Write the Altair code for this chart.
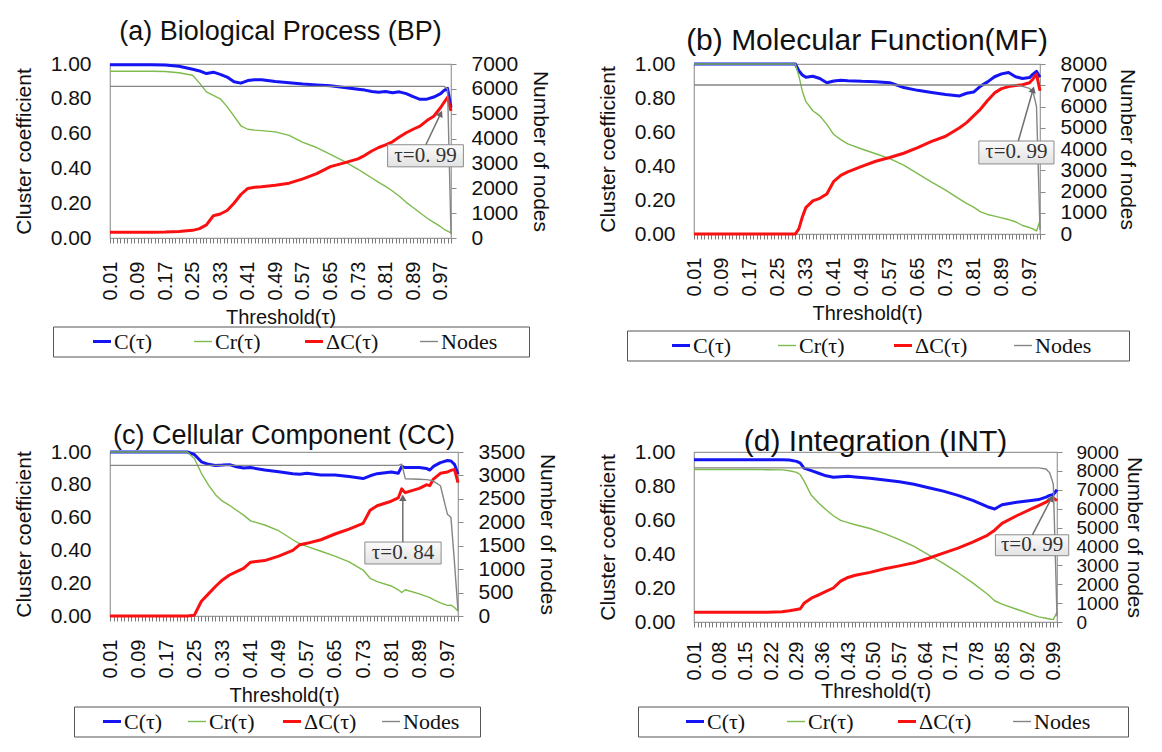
import json
import math
import altair as alt
import pandas as pd

SERIES = ["C(τ)", "Cr(τ)", "ΔC(τ)", "Nodes"]
COLORS = ["#1414f5", "#7dbb4c", "#fa1010", "#858585"]
WIDTHS = [3.0, 1.4, 3.0, 1.4]

X_TICKS = [round(0.01 * i, 2) for i in range(1, 101)]
LABELS_ABC = ["0.01", "0.09", "0.17", "0.25", "0.33", "0.41", "0.49", "0.57",
              "0.65", "0.73", "0.81", "0.89", "0.97"]
LABELS_D = ["0.01", "0.08", "0.15", "0.22", "0.29", "0.36", "0.43", "0.50",
            "0.57", "0.64", "0.71", "0.78", "0.85", "0.92", "0.99"]
LEFT_TICKS = [0.0, 0.2, 0.4, 0.6, 0.8, 1.0]

# ---------------- (a) Biological Process ----------------
XA = [0.01, 0.05, 0.09, 0.13, 0.17, 0.21, 0.25, 0.27, 0.29, 0.31, 0.33, 0.35, 0.37,
      0.39, 0.41, 0.43, 0.45, 0.49, 0.53, 0.57, 0.61, 0.65, 0.69, 0.73, 0.75, 0.77,
      0.79, 0.81, 0.83, 0.85, 0.87, 0.89, 0.91, 0.93, 0.95, 0.97, 0.98, 0.99, 1.00]
CA = [0.995, 0.995, 0.995, 0.995, 0.994, 0.987, 0.97, 0.96, 0.945, 0.953, 0.94, 0.925,
      0.898, 0.89, 0.905, 0.91, 0.91, 0.9, 0.892, 0.885, 0.88, 0.875, 0.865, 0.855,
      0.85, 0.842, 0.838, 0.842, 0.835, 0.84, 0.83, 0.812, 0.797, 0.798, 0.81, 0.83,
      0.848, 0.86, 0.75]
CRA = [0.958, 0.958, 0.958, 0.958, 0.957, 0.95, 0.935, 0.89, 0.84, 0.82, 0.80, 0.755,
       0.70, 0.645, 0.625, 0.62, 0.617, 0.61, 0.59, 0.55, 0.52, 0.48, 0.44, 0.395,
       0.37, 0.345, 0.32, 0.297, 0.27, 0.24, 0.205, 0.175, 0.145, 0.115, 0.09, 0.065,
       0.05, 0.04, 0.03]
DCA = [0.033, 0.033, 0.033, 0.033, 0.034, 0.037, 0.044, 0.054, 0.075, 0.128, 0.138,
       0.158, 0.2, 0.25, 0.285, 0.292, 0.295, 0.303, 0.315, 0.34, 0.37, 0.41, 0.432,
       0.455, 0.475, 0.5, 0.52, 0.535, 0.553, 0.58, 0.605, 0.625, 0.643, 0.675, 0.70,
       0.75, 0.78, 0.808, 0.731]
NA = [6100, 6100, 6100, 6100, 6100, 6100, 6100, 6100, 6100, 6100, 6100, 6100, 6100,
      6100, 6100, 6100, 6100, 6100, 6100, 6100, 6100, 6100, 6100, 6100, 6100, 6100,
      6100, 6100, 6100, 6100, 6100, 6100, 6100, 6100, 6100, 6100, 6100, 6000, 150]
RIGHT_A = [0, 1000, 2000, 3000, 4000, 5000, 6000, 7000]

# ---------------- (b) Molecular Function ----------------
XB = [0.01, 0.05, 0.09, 0.13, 0.17, 0.21, 0.25, 0.29, 0.30, 0.31, 0.32, 0.33, 0.35,
      0.37, 0.39, 0.41, 0.43, 0.45, 0.49, 0.53, 0.57, 0.61, 0.65, 0.69, 0.73, 0.77,
      0.79, 0.81, 0.83, 0.85, 0.87, 0.89, 0.91, 0.93, 0.95, 0.97, 0.98, 0.99, 1.00]
CB = [1.0, 1.0, 1.0, 1.0, 1.0, 1.0, 1.0, 1.0, 1.0, 0.96, 0.935, 0.922, 0.928, 0.915,
      0.89, 0.9, 0.905, 0.902, 0.898, 0.896, 0.89, 0.862, 0.845, 0.832, 0.82, 0.812,
      0.828, 0.835, 0.87, 0.895, 0.925, 0.942, 0.95, 0.925, 0.915, 0.92, 0.94, 0.957,
      0.922]
CRB = [1.0, 1.0, 1.0, 1.0, 1.0, 1.0, 1.0, 1.0, 1.0, 0.93, 0.84, 0.78, 0.725, 0.695,
       0.645, 0.585, 0.555, 0.53, 0.50, 0.472, 0.443, 0.405, 0.355, 0.305, 0.258,
       0.205, 0.18, 0.158, 0.13, 0.115, 0.105, 0.095, 0.085, 0.072, 0.05, 0.038, 0.03,
       0.018, 0.078]
DCB = [0.0, 0.0, 0.0, 0.0, 0.0, 0.0, 0.0, 0.0, 0.0, 0.03, 0.1, 0.155, 0.195, 0.21,
       0.235, 0.31, 0.345, 0.365, 0.398, 0.428, 0.45, 0.475, 0.508, 0.545, 0.575,
       0.625, 0.655, 0.695, 0.735, 0.785, 0.83, 0.855, 0.867, 0.873, 0.878, 0.89,
       0.912, 0.94, 0.843]
NB = [7010, 7010, 7010, 7010, 7010, 7010, 7010, 7010, 7010, 7010, 7010, 7010, 7010,
      7010, 7010, 7010, 7010, 7010, 7010, 7010, 7010, 7010, 7010, 7010, 7010, 7010,
      7010, 7010, 7010, 7010, 7010, 7010, 7010, 7010, 6950, 6850, 6700, 6000, 200]
RIGHT_B = [0, 1000, 2000, 3000, 4000, 5000, 6000, 7000, 8000]

# ---------------- (c) Cellular Component ----------------
XC = [0.01, 0.05, 0.09, 0.13, 0.17, 0.21, 0.23, 0.25, 0.27, 0.29, 0.31, 0.33, 0.35,
      0.37, 0.39, 0.41, 0.45, 0.49, 0.53, 0.55, 0.57, 0.61, 0.65, 0.69, 0.73, 0.75,
      0.77, 0.81, 0.83, 0.84, 0.85, 0.89, 0.91, 0.92, 0.93, 0.95, 0.97, 0.98, 0.99, 1.00]
CC = [1.0, 1.0, 1.0, 1.0, 1.0, 1.0, 1.0, 0.985, 0.94, 0.925, 0.918, 0.92, 0.923, 0.91,
      0.902, 0.905, 0.89, 0.88, 0.868, 0.865, 0.87, 0.86, 0.86, 0.85, 0.838, 0.855,
      0.868, 0.878, 0.87, 0.912, 0.905, 0.905, 0.9, 0.89, 0.912, 0.935, 0.948, 0.945,
      0.925, 0.864]
CRC = [1.0, 1.0, 1.0, 1.0, 1.0, 1.0, 1.0, 0.96, 0.87, 0.80, 0.74, 0.70, 0.675, 0.645,
       0.615, 0.58, 0.555, 0.52, 0.465, 0.44, 0.425, 0.395, 0.365, 0.33, 0.28, 0.23,
       0.21, 0.183, 0.16, 0.143, 0.16, 0.135, 0.12, 0.112, 0.1, 0.08, 0.065, 0.066,
       0.052, 0.03]
DCC = [0.0, 0.0, 0.0, 0.0, 0.0, 0.0, 0.0, 0.005, 0.09, 0.135, 0.18, 0.22, 0.25, 0.27,
       0.29, 0.328, 0.338, 0.365, 0.4, 0.435, 0.443, 0.465, 0.5, 0.53, 0.565, 0.645,
       0.672, 0.7, 0.72, 0.775, 0.752, 0.778, 0.8, 0.795, 0.835, 0.87, 0.878, 0.888,
       0.894, 0.813]
NC = [3215, 3215, 3215, 3215, 3215, 3215, 3215, 3215, 3215, 3215, 3215, 3215, 3215,
      3215, 3215, 3215, 3215, 3215, 3215, 3215, 3215, 3215, 3215, 3215, 3215, 3215,
      3215, 3215, 3215, 3240, 2930, 2920, 2910, 2900, 2880, 2780, 2170, 2100, 1140, 107]
RIGHT_C = [0, 500, 1000, 1500, 2000, 2500, 3000, 3500]

# ---------------- (d) Integration ----------------
XD = [0.01, 0.05, 0.09, 0.13, 0.17, 0.21, 0.25, 0.27, 0.29, 0.30, 0.31, 0.33, 0.35,
      0.37, 0.39, 0.41, 0.43, 0.45, 0.49, 0.53, 0.57, 0.61, 0.65, 0.69, 0.73, 0.77,
      0.81, 0.83, 0.85, 0.89, 0.93, 0.95, 0.97, 0.98, 0.99, 1.00]
CD = [0.955, 0.955, 0.955, 0.955, 0.955, 0.955, 0.955, 0.953, 0.945, 0.935, 0.905,
      0.89, 0.875, 0.86, 0.852, 0.855, 0.857, 0.853, 0.845, 0.835, 0.825, 0.81, 0.79,
      0.77, 0.745, 0.715, 0.678, 0.665, 0.69, 0.705, 0.715, 0.72, 0.735, 0.745, 0.75,
      0.778]
CRD = [0.897, 0.897, 0.897, 0.897, 0.897, 0.896, 0.895, 0.89, 0.88, 0.866, 0.83,
       0.745, 0.70, 0.66, 0.625, 0.598, 0.585, 0.572, 0.55, 0.52, 0.485, 0.445, 0.395,
       0.345, 0.29, 0.23, 0.165, 0.125, 0.105, 0.075, 0.045, 0.03, 0.022, 0.018, 0.014,
       0.058]
DCD = [0.058, 0.058, 0.058, 0.058, 0.058, 0.058, 0.06, 0.066, 0.074, 0.078, 0.11,
       0.14, 0.16, 0.18, 0.2, 0.24, 0.262, 0.275, 0.292, 0.313, 0.33, 0.348, 0.375,
       0.405, 0.435, 0.47, 0.51, 0.54, 0.58, 0.625, 0.665, 0.685, 0.705, 0.72, 0.73,
       0.714]
ND = [8160, 8160, 8160, 8160, 8160, 8160, 8160, 8160, 8160, 8160, 8160, 8160, 8160,
      8160, 8160, 8160, 8160, 8160, 8160, 8160, 8160, 8160, 8160, 8160, 8160, 8160,
      8160, 8160, 8160, 8160, 8160, 8160, 8100, 7900, 7300, 300]
RIGHT_D = [0, 1000, 2000, 3000, 4000, 5000, 6000, 7000, 8000, 9000]

# annotation call-outs (box corners and arrow, in data units of the left axis)
ANN_A = {"label": "τ=0. 99", "bx1": 0.816, "bx2": 1.036, "by1": 0.536, "by2": 0.409,
         "ax1": 0.927, "ay1": 0.536, "ax2": 0.970, "ay2": 0.715}
ANN_B = {"label": "τ=0. 99", "bx1": 0.825, "bx2": 1.040, "by1": 0.547, "by2": 0.412,
         "ax1": 0.938, "ay1": 0.547, "ax2": 0.980, "ay2": 0.849}
ANN_C = {"label": "τ=0. 84", "bx1": 0.735, "bx2": 0.952, "by1": 0.451, "by2": 0.317,
         "ax1": 0.843, "ay1": 0.451, "ax2": 0.843, "ay2": 0.721}
ANN_D = {"label": "τ=0. 99", "bx1": 0.832, "bx2": 1.032, "by1": 0.513, "by2": 0.390,
         "ax1": 0.933, "ay1": 0.513, "ax2": 0.985, "ay2": 0.729}

SANS = "Liberation Sans"
SERIF = "Liberation Serif"
NBSP = "\u00a0"
ZWSP = "\u200b"


def panel(title, xs, c, cr, dc, nodes, right_ticks, labels, ann, W, H,
          lx, ly, lpad_left, col_pad, n_nbsp, title_offset, title_fs,
          right_fs=21, right_tpad=12, right_lpad=15, x_lpad=18, x_tpad=8):
    rows = []
    for s, vals in zip(SERIES[:3], [c, cr, dc]):
        for x, v in zip(xs, vals):
            rows.append({"x": x, "v": v, "s": s})
    left_df = pd.DataFrame(rows)
    right_df = pd.DataFrame({"x": xs, "v": nodes, "s": ["Nodes"] * len(xs)})

    xsc = alt.Scale(domain=[0.01, 1.0], nice=False, zero=False)
    ysc = alt.Scale(domain=[0, 1], nice=False, zero=False)

    label_expr = ("indexof(%s, format(datum.value, '.2f')) >= 0 ? "
                  "format(datum.value, '.2f') : ''") % json.dumps(labels)
    xaxis = alt.Axis(values=X_TICKS, labelExpr=label_expr, labelAngle=-90,
                     labelOverlap=False, labelFlush=False, tickSize=5,
                     tickColor="#7a7a7a", domain=False, grid=False,
                     labelPadding=x_lpad, labelFontSize=20, title="Threshold(τ)",
                     titleFontSize=20, titlePadding=x_tpad)
    yleft = alt.Axis(values=LEFT_TICKS, format=".2f", title="Cluster coefficient",
                     labelFontSize=21, titleFontSize=21, ticks=False, domain=False,
                     grid=False, labelPadding=19, titlePadding=16,
                     labelOverlap=False, labelFlush=False)
    yright = alt.Axis(orient="right", values=right_ticks, format="d",
                      title="Number of nodes", labelFontSize=right_fs, titleFontSize=21,
                      tickSize=5, tickColor="#8a8a8a", domain=False, grid=False,
                      labelPadding=right_lpad, titlePadding=right_tpad,
                      labelOverlap=False, labelFlush=False)

    nodes_label = "Nodes" + NBSP * n_nbsp + ZWSP
    legend = alt.Legend(
        orient="none", legendX=lx, legendY=ly, direction="horizontal", columns=4,
        title=" ", titleOrient="left", titleFontSize=20,
        titlePadding=lpad_left, symbolType="stroke", symbolSize=324,
        labelFont=SERIF, labelFontSize=22, labelColor="#111", labelOffset=1,
        columnPadding=col_pad, padding=4, strokeColor="#555",
        labelExpr="datum.label == 'Nodes' ? '%s' : datum.label" % nodes_label,
    )
    color = alt.Color("s:N", scale=alt.Scale(domain=SERIES, range=COLORS),
                      legend=legend)
    swidth = alt.StrokeWidth("s:N", scale=alt.Scale(type="ordinal", domain=SERIES,
                                                     range=WIDTHS), legend=legend)

    def X(field):
        return alt.X(field, type="quantitative", scale=xsc, axis=xaxis)

    lines_left = alt.Chart(left_df).mark_line(strokeJoin="round").encode(
        x=X("x"), y=alt.Y("v:Q", scale=ysc, axis=yleft),
        color=color, strokeWidth=swidth, order=alt.Order("x:Q"))
    lines_right = alt.Chart(right_df).mark_line(strokeJoin="round").encode(
        x=X("x"),
        y=alt.Y("v:Q", scale=alt.Scale(domain=[0, right_ticks[-1]], nice=False,
                                       zero=True), axis=yright),
        color=color, strokeWidth=swidth, order=alt.Order("x:Q"))

    a = dict(ann)
    a["tx"] = (a["bx1"] + a["bx2"]) / 2
    a["ty"] = (a["by1"] + a["by2"]) / 2
    adf = pd.DataFrame([a])
    dxp = (a["ax2"] - a["ax1"]) / 0.99 * W
    dyp = (a["ay2"] - a["ay1"]) * H
    ang = math.degrees(math.atan2(dxp, dyp)) % 360

    grad = alt.LinearGradient(gradient="linear", x1=0, x2=0, y1=0, y2=1,
                              stops=[alt.GradientStop(color="#fbfbfb", offset=0),
                                     alt.GradientStop(color="#e2e2e2", offset=1)])
    box = alt.Chart(adf).mark_rect(fill=grad, stroke="#8c8c8c", strokeWidth=1).encode(
        x=X("bx1"), x2="bx2:Q",
        y=alt.Y("by1:Q", scale=ysc, axis=None), y2="by2:Q")
    arrow = alt.Chart(adf).mark_rule(color="#707070", strokeWidth=1.5).encode(
        x=X("ax1"), x2="ax2:Q",
        y=alt.Y("ay1:Q", scale=ysc, axis=None), y2="ay2:Q")
    head = alt.Chart(adf).mark_point(shape="triangle-up", filled=True, size=55,
                                     color="#666666", opacity=1, angle=ang).encode(
        x=X("ax2"), y=alt.Y("ay2:Q", scale=ysc, axis=None))
    text = alt.Chart(adf).mark_text(font=SERIF, fontSize=21, color="#333").encode(
        x=X("tx"), y=alt.Y("ty:Q", scale=ysc, axis=None), text="label:N")

    return alt.layer(lines_left, lines_right, box, arrow, head, text).resolve_scale(
        y="independent").properties(
        width=W, height=H,
        title=alt.TitleParams(title, fontSize=title_fs, font=SANS, fontWeight="normal",
                              anchor="middle", frame="group", offset=title_offset,
                              color="#111"))


pa = panel("(a) Biological Process (BP)", XA, CA, CRA, DCA, NA, RIGHT_A, LABELS_ABC,
           ANN_A, 341, 174, -57, 262.5, 34, 38, 5, 7, 27)
pb = panel("(b) Molecular Function(MF)", XB, CB, CRB, DCB, NB, RIGHT_B, LABELS_ABC,
           ANN_B, 346, 170, -67, 266.5, 39, 43, 6, -3, 30, right_tpad=10)
pc = panel("(c) Cellular Component (CC)", XC, CC, CRC, DCC, NC, RIGHT_C, LABELS_ABC,
           ANN_C, 348, 164, -36, 254.5, 23, 22, 3, -9, 27)
pdd = panel("(d) Integration (INT)", XD, CD, CRD, DCD, ND, RIGHT_D, LABELS_D,
            ANN_D, 363, 170, -56, 254.5, 42, 38, 6, -15.5, 30, right_fs=19,
            right_tpad=5, right_lpad=14, x_lpad=14, x_tpad=2)

chart = alt.concat(pa, pb, pc, pdd, columns=2, spacing={"row": 214, "column": 236},
                   bounds="flush").resolve_scale(
    color="independent", strokeWidth="independent").resolve_legend(
    color="independent", strokeWidth="independent").properties(
    padding={"left": 4, "top": 9, "right": 5, "bottom": 0}).configure_view(
    stroke="#9a9a9a", strokeWidth=1.2).configure_axis(
    labelFont=SANS, titleFont=SANS, labelColor="#111", titleColor="#111",
    titleFontWeight="normal").configure_legend(titleColor="#111")

chart.save("out.html", embed_options={"renderer": "svg", "actions": False})
